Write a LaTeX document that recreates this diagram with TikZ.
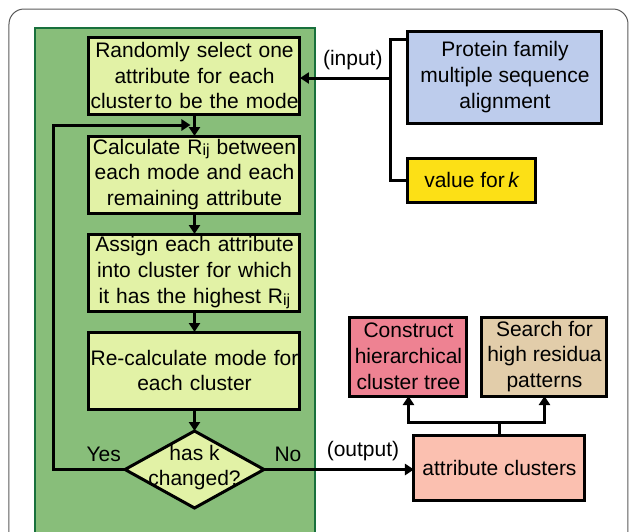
\documentclass[tikz,border=0pt]{standalone}
\usepackage{fontspec}
\setmainfont{Liberation Sans}
\usepackage{tikz}
\usetikzlibrary{shapes, arrows.meta, positioning, calc}
\definecolor{framegray}{RGB}{90,90,90}
\definecolor{panelgreen}{RGB}{136,190,122}
\definecolor{paneledge}{RGB}{24,112,60}
\definecolor{boxgreen}{RGB}{226,242,166}
\definecolor{protblue}{RGB}{189,204,236}
\definecolor{kyellow}{RGB}{252,224,22}
\definecolor{treepink}{RGB}{238,130,146}
\definecolor{searchtan}{RGB}{226,205,170}
\definecolor{clustsalmon}{RGB}{251,192,176}
\newcommand{\Rij}{R\raisebox{-0.15ex}{\fontsize{8}{8}\selectfont ij}}

\begin{document}
\begin{tikzpicture}[x=0.5pt,y=-0.5pt,font=\fontsize{10.5}{12.9}\selectfont]
    \tikzstyle{blk} = [rectangle, draw, line width=1.5pt, outer sep=0pt, inner sep=0.5pt, text width=104.5pt, minimum height=38.5pt, align=center, fill=boxgreen]
    \tikzstyle{sbox} = [rectangle, draw, line width=1.5pt, outer sep=0pt, inner sep=1pt, align=center]
    \tikzstyle{arrow} = [line width=1.5pt,-{Triangle[length=4.5pt,width=5.5pt]}]
    \tikzstyle{line} = [line width=1.5pt]
    \useasboundingbox (0,0) rectangle (629,532);
    \draw[rounded corners=7.5pt, draw=framegray, line width=0.5pt] (9,9) rectangle (628,570);
    \draw[fill=panelgreen, draw=paneledge, line width=1pt] (35,28) rectangle (315,570);
        % the k-modes loop
        \node (sel) [blk] at (194.5,75.5) {Randomly select one\\attribute for each\\\mbox{cluster\hspace{0.12em}to be the mode}};
        \node (rij) [blk, below=11pt of sel] {Calculate \Rij{} between\\each mode and each\\remaining attribute};
        \node (asg) [blk, below=10.5pt of rij] {Assign each attribute\\into cluster for which\\it has the highest \Rij};
        \node (recalc) [blk, below=10.5pt of asg] {Re-calculate mode for\\each cluster};
        \node (chg) [diamond, draw, line width=1.5pt, outer sep=0pt, inner sep=0pt, fill=boxgreen, minimum width=69.5pt, minimum height=38.5pt, below=11pt of recalc, label={[align=center, yshift=1pt]center:has k\\changed?}] {};
        % inputs and outputs
        \node (prot) [sbox, fill=protblue, minimum width=97pt, minimum height=46pt] at (505,77) {Protein family\\multiple sequence\\alignment};
        \node (valk) [sbox, fill=kyellow, minimum width=64pt, minimum height=22pt, below=17.5pt of prot.south west, anchor=north west] {value for\,\textit{k}};
        \node (attr) [sbox, fill=clustsalmon, minimum width=85.5pt, minimum height=32.5pt] at (499.5,467.5) {attribute clusters};
        \node (cons) [sbox, fill=treepink, minimum width=58.5pt, minimum height=39.5pt] at (408.5,356.5) {Construct\\hierarchical\\cluster tree};
        \node (srch) [sbox, fill=searchtan, minimum width=62.5pt, minimum height=39.5pt] at (544.5,356.5) {Search for\\high residua\\patterns};
        \coordinate (jn) at (391,78);
        \coordinate (back) at ($(sel.south)!0.5!(rij.north)+(-2pt,0)$);
        \draw[line] ([yshift=-4pt]prot.north west) -| (jn) |- (valk.west);
        \draw[arrow] (jn) -- node[pos=0.42,above]{(input)} (jn -| sel.east);
        \draw[arrow] (sel) -- (rij);
        \draw[arrow] (rij) -- (asg);
        \draw[arrow] (asg) -- (recalc);
        \draw[arrow] (recalc) -- (chg);
        \draw[arrow] (chg.west) -- node[pos=0.3,above]{Yes} ++(-35.5pt,0) |- (back);
        \draw[arrow] (chg.east) -- node[pos=0.16,above]{No} node[pos=0.66,above]{(output)} (chg.east -| attr.west);
        \draw[line] (attr.north) -- ++(0,6.5pt) coordinate (split);
        \draw[arrow] (split) -| (cons.south);
        \draw[arrow] (split) -| (srch.south);
    \end{tikzpicture}
\end{document}
